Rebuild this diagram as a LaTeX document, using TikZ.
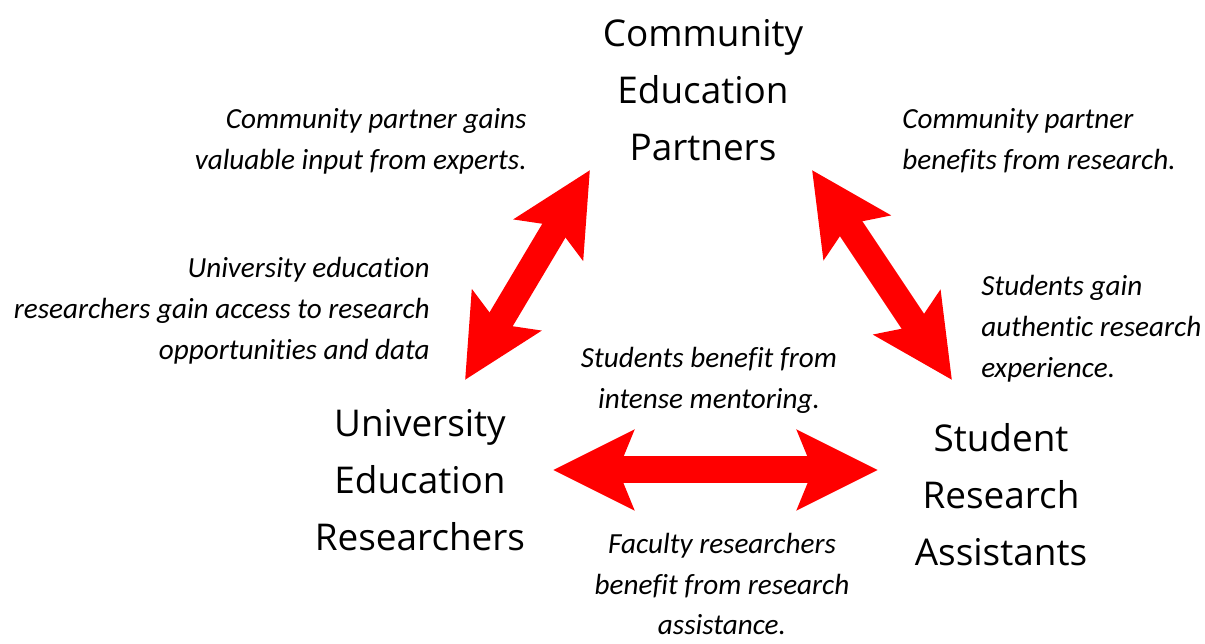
\documentclass[tikz,border=0pt]{standalone}
\usepackage{fontspec}
\setmainfont{Carlito}[Ligatures=CommonOff]
\newfontfamily\partyfont{Open Sans}
\usetikzlibrary{arrows.meta}

\begin{document}
\begin{tikzpicture}[x=0.02cm, y=-0.02cm]
            \tikzset{
                party/.style={align=center, inner sep=0pt, font=\partyfont\fontsize{21}{32.4}\selectfont},
                gain/.style={inner sep=0pt, font=\itshape\fontsize{16.6}{23.3}\selectfont},
                link/.style={red, line width=0.54cm,
                    {Stealth[length=1.6cm, width=1.56cm, inset=0.3cm]}-{Stealth[length=1.6cm, width=1.56cm, inset=0.3cm]}}
            };
            \useasboundingbox (0, 0) rectangle (1205, 644);
            % the three partners
            \node[party] (cep) at (703, 90) {Community\\Education\\Partners};
            \node[party] (uer) at (420, 480) {University\\Education\\Researchers};
            \node[party] (sra) at (1001, 495) {Student\\Research\\Assistants};
            % arrow ends
            \coordinate (cepL) at (590, 170);
            \coordinate (cepR) at (812, 170);
            \coordinate (uerT) at (465, 380);
            \coordinate (uerR) at (553, 470);
            \coordinate (sraT) at (952, 380);
            \coordinate (sraL) at (878, 470);
            \draw[link] (uerT) -- (cepL);
            \draw[link] (cepR) -- (sraT);
            \draw[link] (uerR) -- (sraL);
            % what each side gains
            \node[gain, anchor=east, align=right] (g1) at (527, 141) {Community partner gains\\valuable input from experts.};
            \node[gain, anchor=west, align=left] (g2) at (902, 141) {Community partner\\benefits from research.};
            \node[gain, anchor=east, align=right] (g3) at (430, 311) {University education\\researchers gain access to research\\opportunities and data};
            \node[gain, anchor=west, align=left] (g4) at (981, 329) {Students gain\\authentic research\\experience.};
            \node[gain, align=center] (g5) at (709, 380) {Students benefit from\\intense mentoring.};
            \node[gain, align=center] (g6) at (722, 584) {Faculty researchers\\benefit from research\\assistance.};
\end{tikzpicture}
\end{document}
